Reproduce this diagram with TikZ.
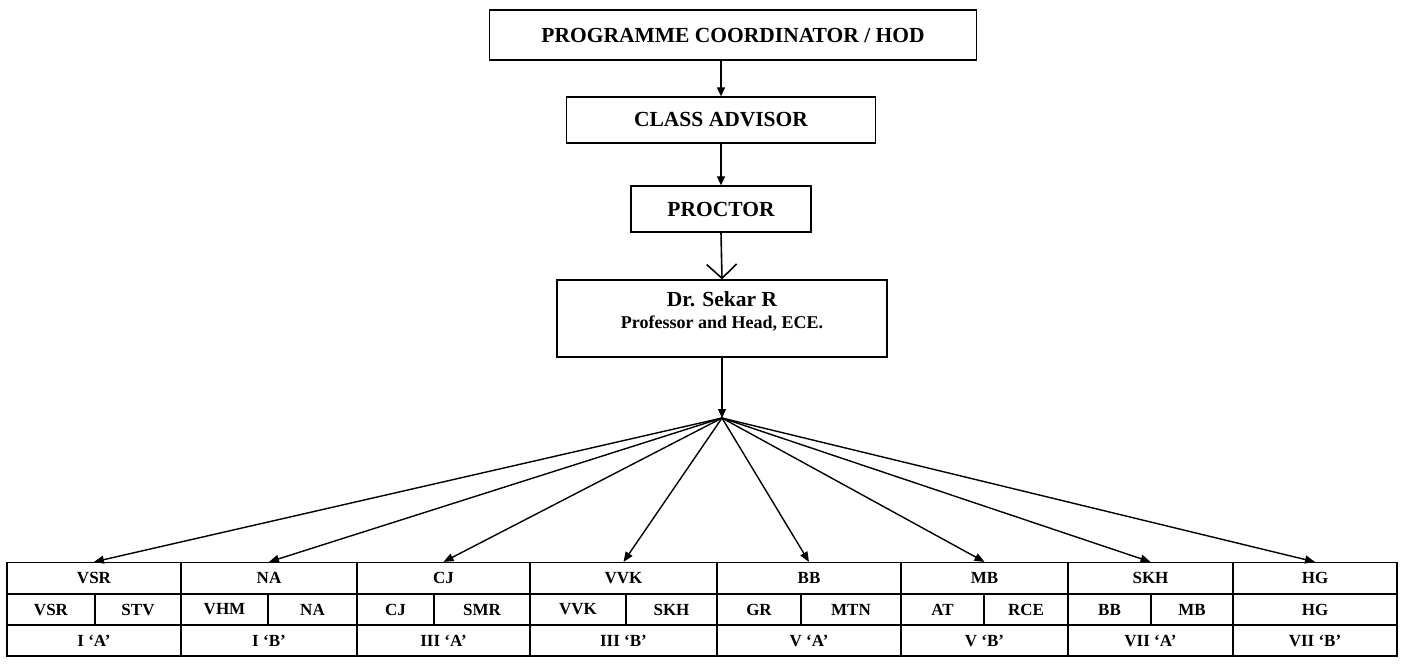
\documentclass[tikz,border=0pt]{standalone}
\usepackage{fontspec}
\setmainfont{Liberation Serif}
\usetikzlibrary{arrows.meta}
\begin{document}
\begin{tikzpicture}[x=1pt,y=-1pt,
  box/.style={draw, line width=1.3pt, inner sep=0pt, font=\fontsize{21.5}{24}\selectfont\bfseries},
  cell/.style={draw, line width=1.2pt, inner sep=0pt, minimum height=31pt, font=\fontsize{17}{19}\selectfont\bfseries},
  arr/.style={line width=1.2pt, -{Triangle[length=9pt,width=8pt]}},
  farr/.style={line width=1.4pt, -{Triangle[length=10pt,width=8pt]}}]
\useasboundingbox (0,0) rectangle (1404,666);
% hierarchy boxes
\node[box, minimum width=487pt, minimum height=50pt] (pc) at (733,35) {PROGRAMME COORDINATOR / HOD};
\node[box, minimum width=309pt, minimum height=46pt] (ca) at (721,120) {CLASS ADVISOR};
\node[box, minimum width=180pt, minimum height=46pt] (pr) at (721,209) {PROCTOR};
\node[box, minimum width=330pt, minimum height=77pt, align=center, font=\fontsize{21.5}{22}\selectfont\bfseries] (dr) at (722,318.5)
  {Dr. Sekar R\\{\fontsize{18}{22}\selectfont Professor and Head, ECE.\rule[-16pt]{0pt}{1pt}}};
\coordinate (fan) at (722,418);
\draw[arr] (pc.south -| 721,0) -- (ca.north);
\draw[arr] (ca.south) -- (pr.north);
\draw[line width=1.6pt, -{Straight Barb[length=14pt,width=30pt,line width=1.6pt]}] (pr.south) -- (dr.north);
\draw[arr] (dr.south) -- (fan);
% table
\foreach \l/\r/\s/\ta/\sa/\sb/\bt [count=\i] in {
  7/181/95/VSR/VSR/STV/I ‘A’,
  181/357/268/NA/VHM/NA/I ‘B’,
  357/530/434/CJ/CJ/SMR/III ‘A’,
  530/717/626/VVK/VVK/SKH/III ‘B’,
  717/901/801/BB/GR/MTN/V ‘A’,
  901/1068/984/MB/AT/RCE/V ‘B’,
  1068/1233/1151/SKH/BB/MB/VII ‘A’}{
  \pgfmathsetmacro{\w}{\r-\l}
  \pgfmathsetmacro{\wa}{\s-\l}
  \pgfmathsetmacro{\wb}{\r-\s}
  \node[cell, minimum width=\w pt] (t\i) at ({(\l+\r)/2},578) {\ta};
  \node[cell, minimum width=\wa pt] (a\i) at ({(\l+\s)/2},609.5) {\sa};
  \node[cell, minimum width=\wb pt] (b\i) at ({(\s+\r)/2},609.5) {\sb};
  \node[cell, minimum width=\w pt] (c\i) at ({(\l+\r)/2},640.5) {\bt};
  \draw[farr] (fan) -- (t\i.north);
}
\node[cell, minimum width=164pt] (t8) at (1315,578) {HG};
\node[cell, minimum width=164pt] (a8) at (1315,609.5) {HG};
\node[cell, minimum width=164pt] (c8) at (1315,640.5) {VII ‘B’};
\draw[farr] (fan) -- (t8.north);
\end{tikzpicture}
\end{document}
